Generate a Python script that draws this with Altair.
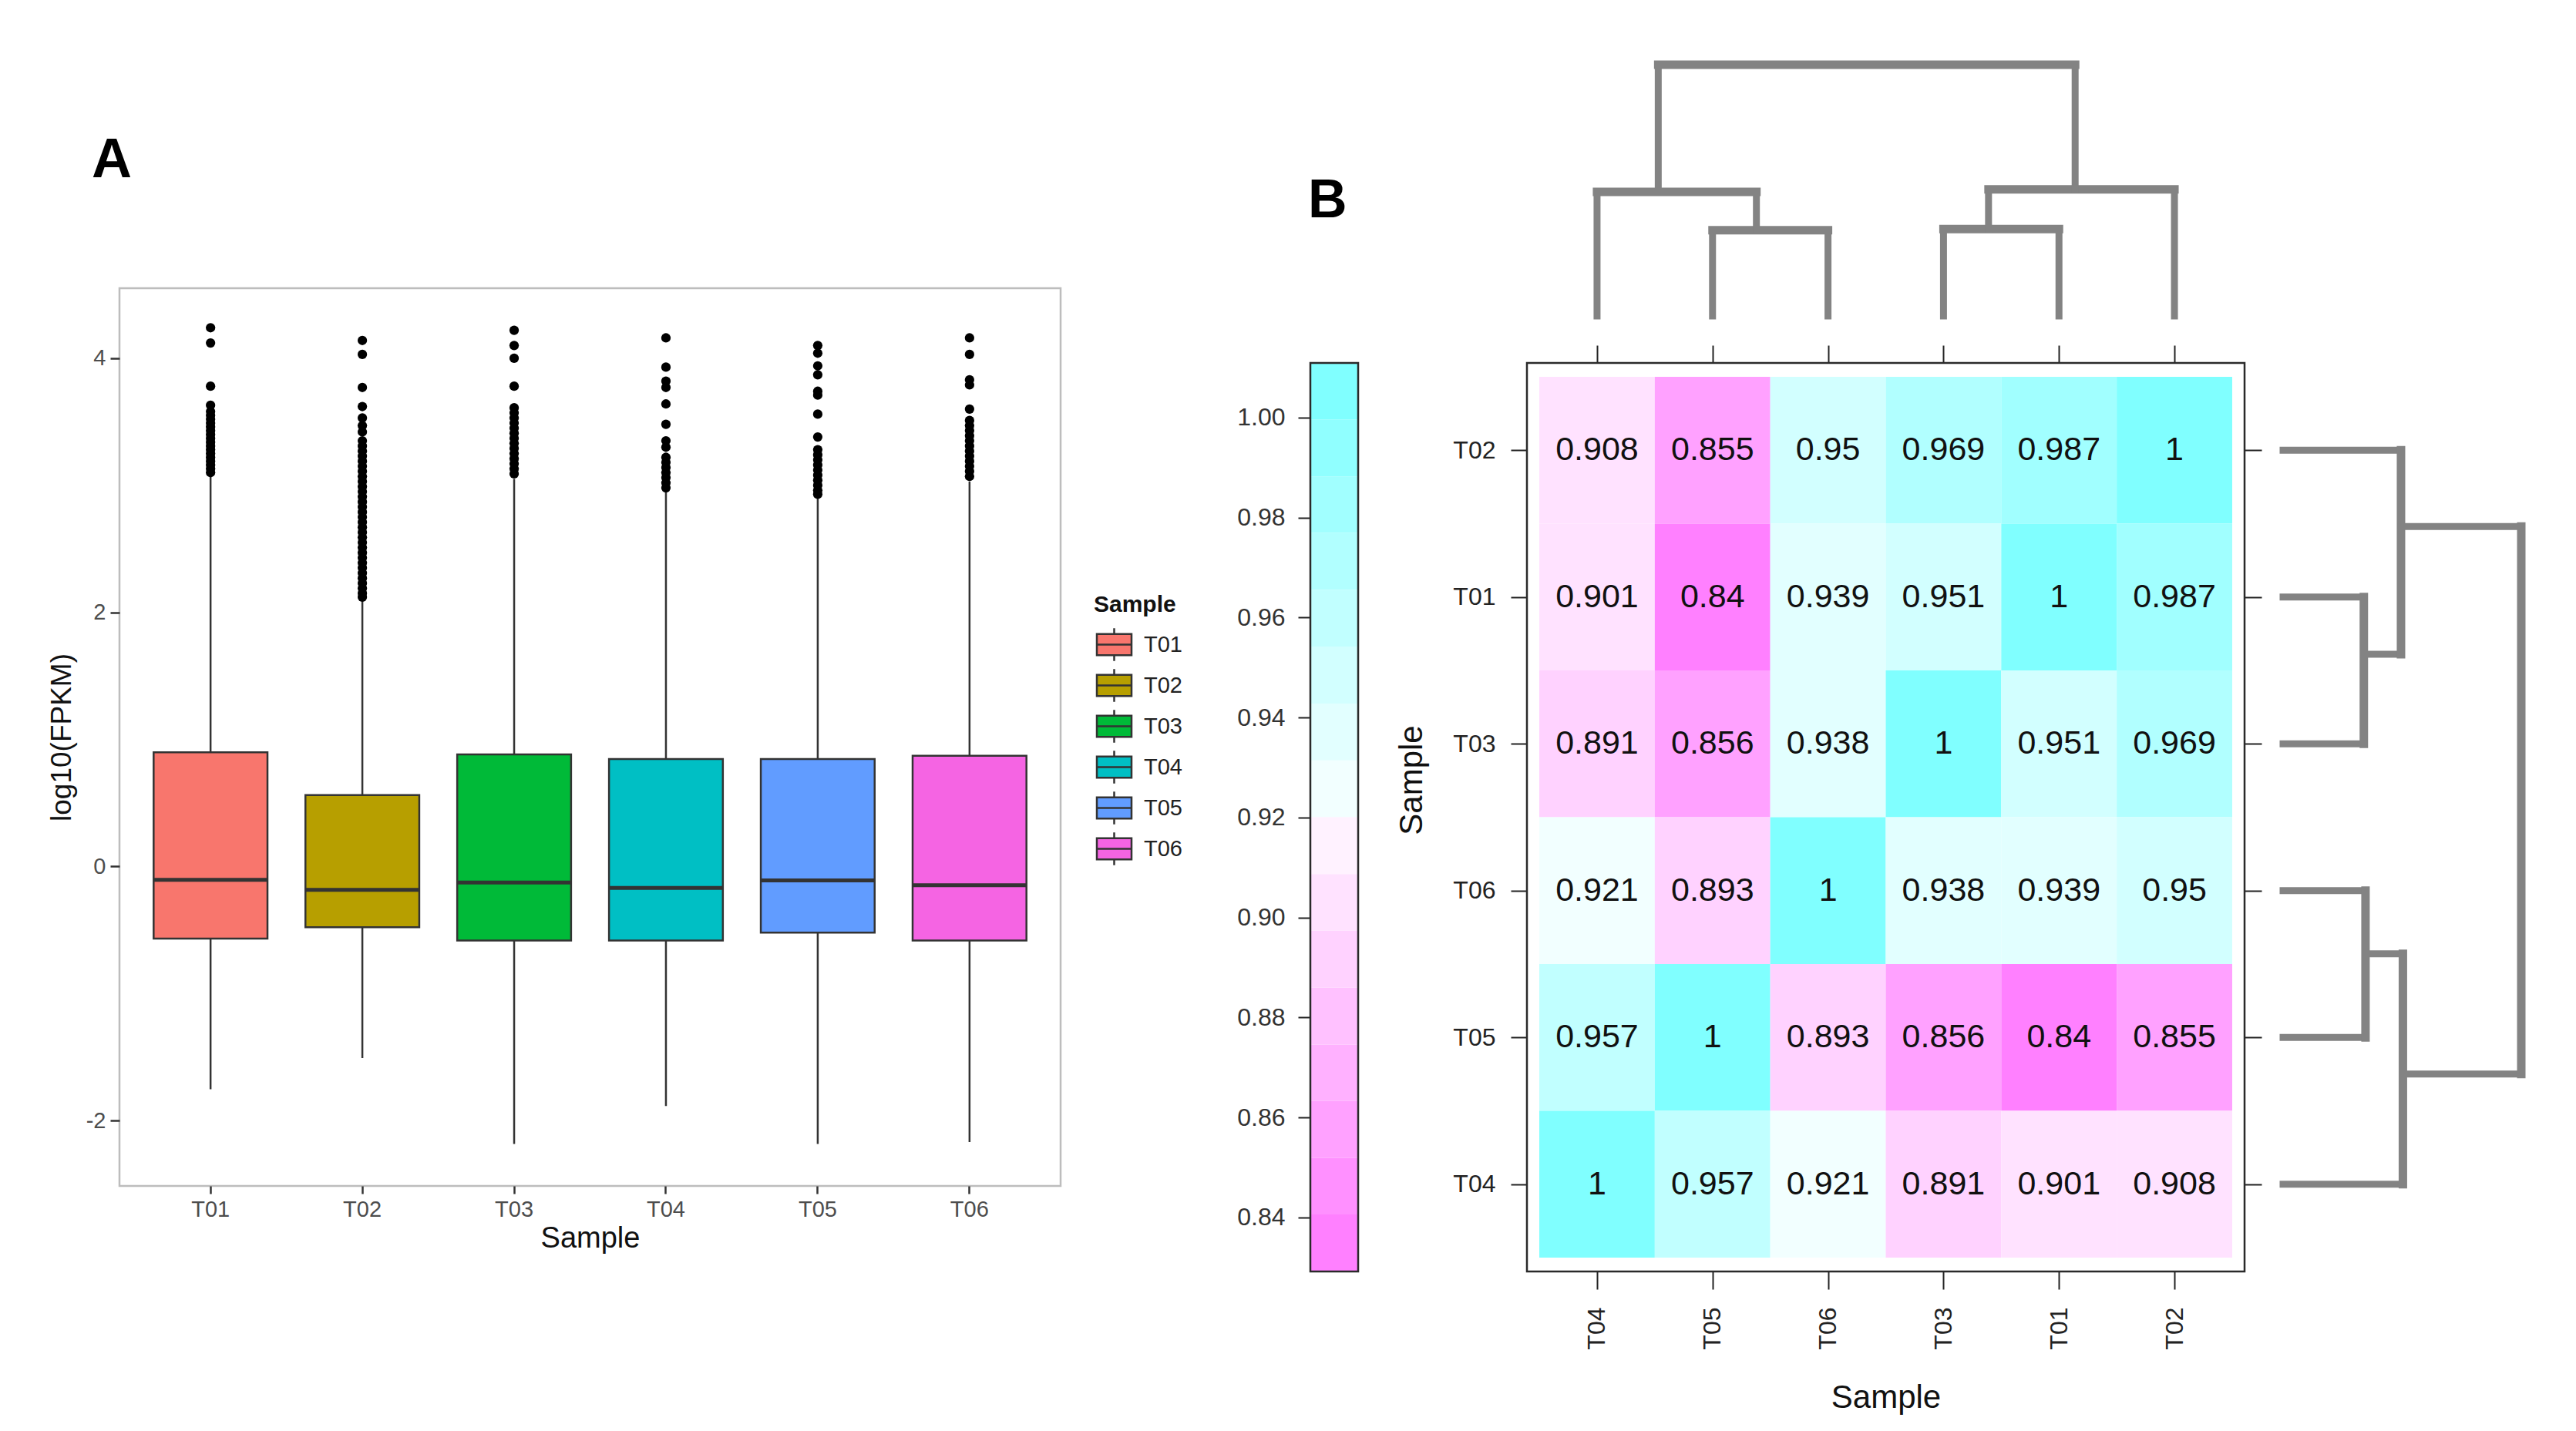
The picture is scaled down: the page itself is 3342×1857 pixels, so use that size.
import altair as alt
import pandas as pd

# ---------------- Panel A: box plot data ----------------
SAMPLES = ["T01", "T02", "T03", "T04", "T05", "T06"]
BOX_COLORS = ["#F8766D", "#B79F00", "#00BA38", "#00BFC4", "#619CFF", "#F564E3"]
Q1 = [-0.567, -0.478, -0.583, -0.583, -0.520, -0.583]
MEDIAN = [-0.105, -0.184, -0.126, -0.168, -0.110, -0.147]
Q3 = [0.898, 0.562, 0.882, 0.845, 0.845, 0.871]
WHISK_LO = [-1.753, -1.507, -2.184, -1.885, -2.184, -2.168]
WHISK_HI = [3.07, 2.10, 3.05, 2.95, 2.90, 3.03]
OUTLIERS = {
    "T01": [4.24, 4.12, 3.78, 3.63, 3.58, 3.55, 3.52, 3.49, 3.46, 3.43, 3.40, 3.37, 3.34,
            3.31, 3.28, 3.25, 3.22, 3.19, 3.16, 3.13, 3.10],
    "T02": [4.14, 4.03, 3.77, 3.62, 3.53, 3.47, 3.42, 3.35, 3.31, 3.27, 3.23, 3.19, 3.15,
            3.11, 3.07, 3.03, 2.99, 2.95, 2.91, 2.87, 2.83, 2.79, 2.75, 2.71, 2.67, 2.63,
            2.59, 2.55, 2.51, 2.47, 2.43, 2.39, 2.35, 2.31, 2.27, 2.23, 2.19, 2.15, 2.12],
    "T03": [4.22, 4.10, 4.00, 3.78, 3.61, 3.57, 3.53, 3.49, 3.45, 3.41, 3.37, 3.33, 3.29,
            3.25, 3.21, 3.17, 3.13, 3.09],
    "T04": [4.16, 3.93, 3.82, 3.77, 3.64, 3.48, 3.35, 3.30, 3.22, 3.18, 3.14, 3.10, 3.06,
            3.02, 2.98],
    "T05": [4.10, 4.04, 3.94, 3.87, 3.74, 3.71, 3.56, 3.38, 3.28, 3.24, 3.20, 3.16, 3.12,
            3.08, 3.04, 3.00, 2.96, 2.93],
    "T06": [4.16, 4.03, 3.83, 3.79, 3.60, 3.51, 3.47, 3.43, 3.39, 3.35, 3.31, 3.27, 3.23,
            3.19, 3.15, 3.11, 3.07],
}
BOX_YDOM = [-2.514, 4.551]
BOX_YTICKS = [-2, 0, 2, 4]

# ---------------- Panel B: correlation heatmap data ----------------
ROW_ORDER = ["T02", "T01", "T03", "T06", "T05", "T04"]
COL_ORDER = ["T04", "T05", "T06", "T03", "T01", "T02"]
CORR = [
    [0.908, 0.855, 0.95, 0.969, 0.987, 1],
    [0.901, 0.84, 0.939, 0.951, 1, 0.987],
    [0.891, 0.856, 0.938, 1, 0.951, 0.969],
    [0.921, 0.893, 1, 0.938, 0.939, 0.95],
    [0.957, 1, 0.893, 0.856, 0.84, 0.855],
    [1, 0.957, 0.921, 0.891, 0.901, 0.908],
]
KEY_EDGES = [0.8292, 0.8406, 0.8519, 0.8633, 0.8746, 0.8860, 0.8974, 0.9087, 0.9201,
             0.9314, 0.9428, 0.9542, 0.9655, 0.9769, 0.9882, 0.9996, 1.0109]
KEY_COLORS = ["#FF80FF", "#FF90FF", "#FFA1FF", "#FFB1FF", "#FFC1FF", "#FFD2FF", "#FFE2FF",
              "#FFF2FF", "#F2FFFF", "#E2FFFF", "#D2FFFF", "#C1FFFF", "#B1FFFF", "#A1FFFF",
              "#90FFFF", "#80FFFF"]
KEY_TICKS = [0.84, 0.86, 0.88, 0.90, 0.92, 0.94, 0.96, 0.98, 1.00]

# dendrograms: (child a, child b, merge height, drawn position of the new node)
TOP_NODES = [("T05", "T06", 0.341, 1.88), ("T04", "n1", 0.494, 1.03),
             ("T03", "T01", 0.346, 3.89), ("n3", "T02", 0.504, 4.64),
             ("n2", "n4", 1.0, 2.8)]
RIGHT_NODES = [("T01", "T03", 0.339, 1.89), ("T02", "n1", 0.495, 1.02),
               ("T06", "T05", 0.346, 3.93), ("n3", "T04", 0.503, 4.75),
               ("n2", "n4", 1.0, 2.9)]

# ---------------- layout (pixels) ----------------
BOX_W, BOX_H = 1221, 1165
CB_W, CB_FRAME_H, CB_EXTRA = 62, 1179, 97
HM_W, HM_FRAME_H, HM_EXTRA = 931, 1179, 97
HM_XDOM = [-0.107, 6.107]
HM_FRAME_Y = [-0.095, 6.095]
HM_UNIT = HM_FRAME_H / (HM_FRAME_Y[1] - HM_FRAME_Y[0])
HM_YDOM = [HM_FRAME_Y[0] - HM_EXTRA / HM_UNIT, HM_FRAME_Y[1]]
CB_YDOM = [KEY_EDGES[0],
           KEY_EDGES[-1] + CB_EXTRA * (KEY_EDGES[-1] - KEY_EDGES[0]) / CB_FRAME_H]
TOP_DENDRO_RANGE = [36, -290]
RIGHT_DENDRO_RANGE = [981, 1290]
FONT = "Liberation Sans"

# ================= Panel A =================
bdf = pd.DataFrame({"sample": SAMPLES, "q1": Q1, "med": MEDIAN, "q3": Q3,
                    "lo": WHISK_LO, "hi": WHISK_HI})
odf = pd.DataFrame([(s, v) for s in SAMPLES for v in OUTLIERS[s]], columns=["sample", "v"])

xs_b = alt.Scale(domain=SAMPLES, paddingInner=0.25, paddingOuter=0.225)
ys_b = alt.Scale(domain=BOX_YDOM, nice=False, zero=False)
xaxis_b = alt.Axis(title="Sample", titleFontSize=38, titleFontWeight="normal",
                   titleColor="#111111", titlePadding=4, labelFontSize=29,
                   labelColor="#4D4D4D", labelAngle=0, tickSize=10, tickColor="#333333",
                   tickWidth=2.5, labelPadding=6, domain=False, grid=False)
yaxis_b = alt.Axis(title="log10(FPKM)", titleFontSize=37, titleFontWeight="normal",
                   titleColor="#111111", titlePadding=12, values=BOX_YTICKS,
                   labelExpr="'' + datum.value",
                   labelFontSize=29, labelColor="#4D4D4D", tickSize=12,
                   tickColor="#333333", tickWidth=2.5, labelPadding=6, domain=False,
                   grid=False)


def bx():
    return alt.X("sample:N", scale=xs_b, axis=xaxis_b)


def by(f):
    return alt.Y(f"{f}:Q", scale=ys_b, axis=yaxis_b)


BOXPX = BOX_W / 6.2 * 0.75
base_b = alt.Chart(bdf)
whisk = base_b.mark_rule(color="#333333", strokeWidth=2.5).encode(x=bx(), y=by("lo"), y2="hi:Q")
legend_path = "M-0.9,-0.55H0.9V0.55H-0.9Z M-0.9,0H0.9 M0,-0.55V-0.85 M0,0.55V0.85"
boxes = base_b.mark_bar(stroke="#333333", strokeWidth=2.5).encode(
    x=bx(), y=by("q1"), y2="q3:Q",
    fill=alt.Fill("sample:N", scale=alt.Scale(domain=SAMPLES, range=BOX_COLORS),
                  legend=alt.Legend(title="Sample", orient="none", legendX=1264, legendY=396,
                                    titleFontSize=30, titleFontWeight="bold",
                                    titleColor="#111111", titlePadding=10,
                                    labelFontSize=29, labelColor="#222222",
                                    symbolType=legend_path, symbolSize=2500,
                                    symbolStrokeColor="#333333", symbolStrokeWidth=2.5,
                                    rowPadding=0, labelOffset=12)))
med = base_b.mark_tick(color="#333333", thickness=5, size=BOXPX, opacity=1).encode(
    x=bx(), y=by("med"))
outl = alt.Chart(odf).mark_circle(size=150, color="black", opacity=1).encode(
    x=bx(), y=by("v"))
one = pd.DataFrame({"t": ["A"]})
lab_a = alt.Chart(one).mark_text(align="left", baseline="alphabetic", fontSize=72,
                                 fontWeight="bold", color="black").encode(
    text="t:N", x=alt.value(-36), y=alt.value(-144))
box_chart = alt.layer(whisk, boxes, med, outl, lab_a).properties(
    width=BOX_W, height=BOX_H,
    view=alt.ViewBackground(stroke="#BDBDBD", strokeWidth=2.5))

# ================= Colour key =================
cb_scale = alt.Scale(domain=CB_YDOM, nice=False, zero=False)
cb_axis = alt.Axis(values=KEY_TICKS, format=".2f", title=None, labelFontSize=32,
                   labelColor="#333333", tickSize=16, tickColor="#222222",
                   tickWidth=2, labelPadding=17, domain=False, grid=False)
cb_df = pd.DataFrame({"lo": KEY_EDGES[:-1], "hi": KEY_EDGES[1:], "c": KEY_COLORS})
bands = alt.Chart(cb_df).mark_rect().encode(
    x=alt.value(0), x2=alt.value(CB_W),
    y=alt.Y("lo:Q", scale=cb_scale, axis=cb_axis), y2="hi:Q",
    fill=alt.Fill("c:N", scale=None))
cb_frame_df = pd.DataFrame({"lo": [KEY_EDGES[0]], "hi": [KEY_EDGES[-1]]})
cb_frame = alt.Chart(cb_frame_df).mark_rect(fill="transparent", stroke="#2A2A2A",
                                            strokeWidth=2.5).encode(
    x=alt.value(0), x2=alt.value(CB_W),
    y=alt.Y("lo:Q", scale=cb_scale, axis=cb_axis), y2="hi:Q")
oneb = pd.DataFrame({"t": ["B"]})
lab_b = alt.Chart(oneb).mark_text(align="left", baseline="alphabetic", fontSize=70,
                                  fontWeight="bold", color="black").encode(
    text="t:N", x=alt.value(-3), y=alt.value(-92))
cb_chart = alt.layer(bands, cb_frame, lab_b).properties(
    width=CB_W, height=CB_FRAME_H + CB_EXTRA,
    view=alt.ViewBackground(stroke="transparent", strokeWidth=0))

# ================= Heatmap =================
recs = []
for ri, rname in enumerate(ROW_ORDER):
    for ci, cname in enumerate(COL_ORDER):
        recs.append({"row": rname, "col": cname, "r": CORR[ri][ci],
                     "x0": ci, "x1": ci + 1, "xc": ci + 0.5,
                     "y0": ri, "y1": ri + 1, "yc": ri + 0.5})
hm_df = pd.DataFrame(recs)
centers = [i + 0.5 for i in range(6)]
col_expr = "[" + ",".join(f"'{c}'" for c in COL_ORDER) + "][floor(datum.value)]"
row_expr = "[" + ",".join(f"'{r}'" for r in ROW_ORDER) + "][floor(datum.value)]"
xs_h = alt.Scale(domain=HM_XDOM, nice=False, zero=False)
ys_h = alt.Scale(domain=HM_YDOM, nice=False, zero=False, reverse=True)

cells = alt.Chart(hm_df).mark_rect().encode(
    x=alt.X("x0:Q", scale=xs_h,
            axis=alt.Axis(orient="bottom", values=centers, labelExpr=col_expr, labelAngle=-90,
                          labelFontSize=32, labelColor="#222222", labelPadding=23,
                          tickSize=23, tickColor="#222222", tickWidth=2, domain=False,
                          grid=False, title="Sample", titleFontSize=42,
                          titleFontWeight="normal", titleColor="#111111", titlePadding=42)),
    x2="x1:Q",
    y=alt.Y("y0:Q", scale=ys_h,
            axis=alt.Axis(orient="left", values=centers, labelExpr=row_expr,
                          labelFontSize=32, labelColor="#222222", labelPadding=20,
                          tickSize=21, tickColor="#222222", tickWidth=2, domain=False,
                          grid=False, title="Sample", titleFontSize=42,
                          titleFontWeight="normal", titleColor="#111111", titlePadding=31)),
    y2="y1:Q",
    fill=alt.Fill("r:Q", scale=alt.Scale(type="threshold", domain=KEY_EDGES[1:-1],
                                         range=KEY_COLORS), legend=None))
texts = alt.Chart(hm_df).mark_text(fontSize=43, color="#111111").encode(
    x=alt.X("xc:Q", scale=xs_h,
            axis=alt.Axis(orient="top", offset=-HM_EXTRA, values=centers, labels=False,
                          tickSize=23, tickColor="#222222", tickWidth=2, domain=False,
                          grid=False, title=None)),
    y=alt.Y("yc:Q", scale=ys_h,
            axis=alt.Axis(orient="right", values=centers, labels=False, tickSize=22,
                          tickColor="#222222", tickWidth=2, domain=False, grid=False,
                          title=None)),
    text=alt.Text("r:Q", format=".3~f"))
hm_frame_df = pd.DataFrame({"fx0": [HM_XDOM[0]], "fx1": [HM_XDOM[1]],
                            "fy0": [HM_FRAME_Y[0]], "fy1": [HM_FRAME_Y[1]]})
hm_frame = alt.Chart(hm_frame_df).mark_rect(fill="transparent", stroke="#2A2A2A",
                                            strokeWidth=2.5).encode(
    x=alt.X("fx0:Q", scale=xs_h, axis=None), x2="fx1:Q",
    y=alt.Y("fy0:Q", scale=ys_h, axis=None), y2="fy1:Q")
heat_inner = alt.layer(cells, texts, hm_frame).resolve_axis(x="independent", y="independent")


def dendro_segments(leaf_pos, nodes):
    pos = dict(leaf_pos)
    hgt = {k: 0.0 for k in leaf_pos}
    segs = []
    for i, (a, b, h, p) in enumerate(nodes):
        for c in (a, b):
            segs.append({"p1": pos[c], "p2": pos[c], "h1": hgt[c], "h2": h, "kind": "leg"})
        segs.append({"p1": pos[a], "p2": pos[b], "h1": h, "h2": h, "kind": "bar"})
        pos[f"n{i + 1}"] = p
        hgt[f"n{i + 1}"] = h
    return pd.DataFrame(segs)


top_df = dendro_segments({c: i + 0.5 for i, c in enumerate(COL_ORDER)}, TOP_NODES)
right_df = dendro_segments({r: i + 0.5 for i, r in enumerate(ROW_ORDER)}, RIGHT_NODES)
sw = alt.StrokeWidth("kind:N", scale=alt.Scale(domain=["leg", "bar"], range=[9, 11]),
                     legend=None)
top_d = alt.Chart(top_df).mark_rule(color="#838383", strokeCap="square").encode(
    x=alt.X("p1:Q", scale=alt.Scale(domain=HM_XDOM, nice=False, zero=False), axis=None),
    x2="p2:Q",
    y=alt.Y("h1:Q", scale=alt.Scale(domain=[0, 1], range=TOP_DENDRO_RANGE, nice=False,
                                    zero=False), axis=None),
    y2="h2:Q", strokeWidth=sw)
right_d = alt.Chart(right_df).mark_rule(color="#838383", strokeCap="square").encode(
    y=alt.Y("p1:Q", scale=alt.Scale(domain=HM_YDOM, nice=False, zero=False, reverse=True),
            axis=None),
    y2="p2:Q",
    x=alt.X("h1:Q", scale=alt.Scale(domain=[0, 1], range=RIGHT_DENDRO_RANGE, nice=False,
                                    zero=False), axis=None),
    x2="h2:Q", strokeWidth=sw)

heat_chart = alt.layer(heat_inner, top_d, right_d).resolve_scale(
    x="independent", y="independent").properties(
    width=HM_W, height=HM_FRAME_H + HM_EXTRA,
    view=alt.ViewBackground(stroke="transparent", strokeWidth=0))

chart = alt.hconcat(
    box_chart,
    alt.hconcat(cb_chart, heat_chart, spacing=46),
    spacing=68,
).properties(
    padding={"left": 51, "top": 68, "right": 5, "bottom": 5}
).configure(font=FONT)

chart.save("out.html", embed_options={"renderer": "svg", "actions": False})
